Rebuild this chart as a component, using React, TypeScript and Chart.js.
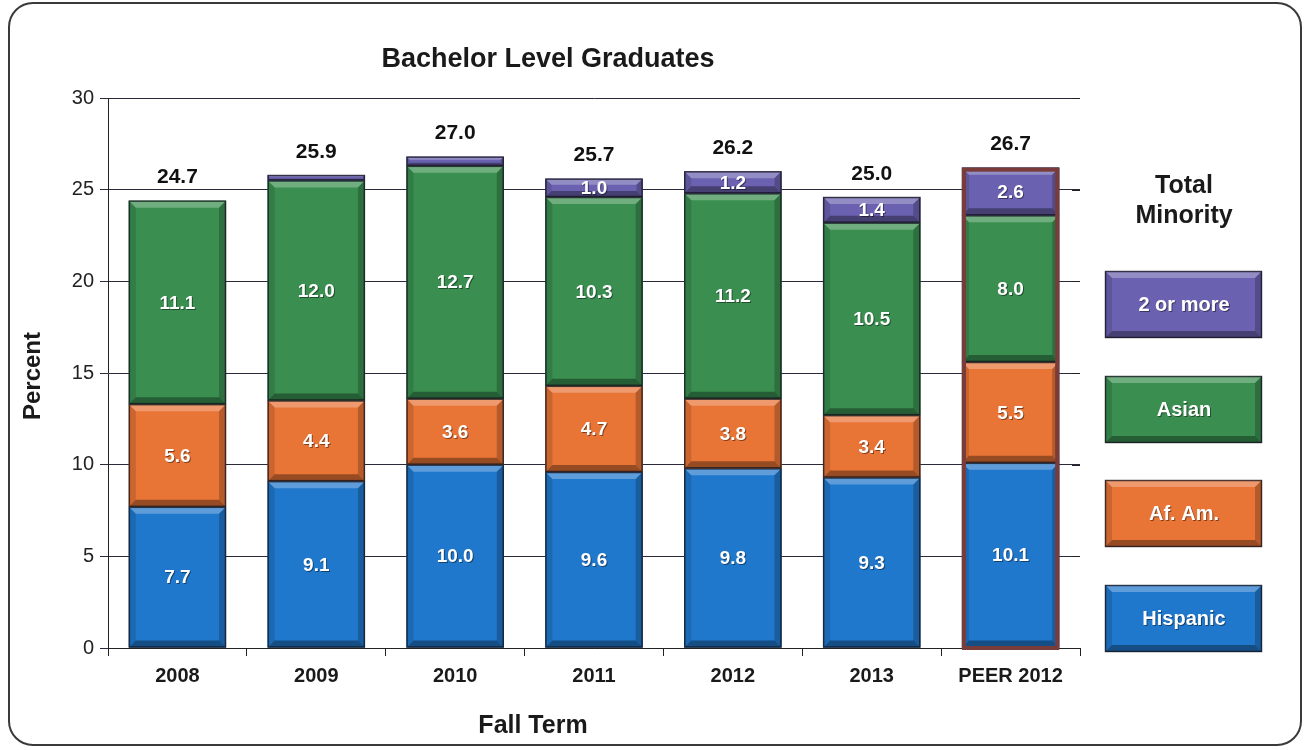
import React, { useEffect, useRef } from "react";
import { Chart, registerables } from "chart.js";

Chart.register(...registerables);

const categories = ["2008", "2009", "2010", "2011", "2012", "2013", "PEER 2012"];
const hispanic = [7.7, 9.1, 10.0, 9.6, 9.8, 9.3, 10.1];
const afAm = [5.6, 4.4, 3.6, 4.7, 3.8, 3.4, 5.5];
const asian = [11.1, 12.0, 12.7, 10.3, 11.2, 10.5, 8.0];
const twoOrMore = [0, 0.3, 0.5, 1.0, 1.2, 1.4, 2.6];
const totals = ["24.7", "25.9", "27.0", "25.7", "26.2", "25.0", "26.7"];
const seriesNames = ["Hispanic", "Af. Am.", "Asian", "2 or more"];
const seriesColors = ["#2078cc", "#e87436", "#3a8f50", "#6a62b0"];
const yTicks = [0, 5, 10, 15, 20, 25, 30];

const FONT = '"Liberation Sans", Arial, sans-serif';

function bevelRect(ctx: CanvasRenderingContext2D, l: number, t: number, r: number, b: number, color: string) {
  const h = b - t;
  const w = r - l;
  if (h <= 0) return;
  ctx.save();
  ctx.fillStyle = color;
  ctx.fillRect(l, t, w, h);
  const s = Math.min(7, h / 3, w / 3);
  ctx.fillStyle = "rgba(255,255,255,0.28)";
  ctx.beginPath();
  ctx.moveTo(l, t); ctx.lineTo(r, t); ctx.lineTo(r - s, t + s); ctx.lineTo(l + s, t + s); ctx.closePath(); ctx.fill();
  ctx.fillStyle = "rgba(0,0,0,0.35)";
  ctx.beginPath();
  ctx.moveTo(l, b); ctx.lineTo(r, b); ctx.lineTo(r - s, b - s); ctx.lineTo(l + s, b - s); ctx.closePath(); ctx.fill();
  ctx.fillStyle = "rgba(0,0,0,0.12)";
  ctx.beginPath();
  ctx.moveTo(l, t); ctx.lineTo(l + s, t + s); ctx.lineTo(l + s, b - s); ctx.lineTo(l, b); ctx.closePath(); ctx.fill();
  ctx.fillStyle = "rgba(0,0,0,0.22)";
  ctx.beginPath();
  ctx.moveTo(r, t); ctx.lineTo(r - s, t + s); ctx.lineTo(r - s, b - s); ctx.lineTo(r, b); ctx.closePath(); ctx.fill();
  ctx.strokeStyle = "rgba(20,20,30,0.75)";
  ctx.lineWidth = 1.5;
  ctx.strokeRect(l + 0.5, t + 0.5, w - 1, h - 1);
  ctx.restore();
}

function shadowText(ctx: CanvasRenderingContext2D, text: string, x: number, y: number) {
  ctx.save();
  ctx.fillStyle = "rgba(0,0,0,0.45)";
  ctx.fillText(text, x + 1, y + 1);
  ctx.fillStyle = "#ffffff";
  ctx.fillText(text, x, y);
  ctx.restore();
}

const decorPlugin = {
  id: "decor",
  beforeDraw(chart: any) {
    const ctx = chart.ctx as CanvasRenderingContext2D;
    ctx.save();
    ctx.fillStyle = "#ffffff";
    ctx.fillRect(0, 0, chart.width, chart.height);
    const l = 9, t = 3, r = 1301, b = 745, rad = 24;
    ctx.strokeStyle = "#3a3a3a";
    ctx.lineWidth = 2;
    ctx.beginPath();
    ctx.moveTo(l + rad, t);
    ctx.lineTo(r - rad, t);
    ctx.arcTo(r, t, r, t + rad, rad);
    ctx.lineTo(r, b - rad);
    ctx.arcTo(r, b, r - rad, b, rad);
    ctx.lineTo(l + rad, b);
    ctx.arcTo(l, b, l, b - rad, rad);
    ctx.lineTo(l, t + rad);
    ctx.arcTo(l, t, l + rad, t, rad);
    ctx.closePath();
    ctx.stroke();
    ctx.restore();
  },
  afterDatasetsDraw(chart: any) {
    const ctx = chart.ctx as CanvasRenderingContext2D;
    const area = chart.chartArea;
    const yScale = chart.scales.y;
    const nDs = chart.data.datasets.length;
    const tops: number[] = [];
    const bars: { l: number; r: number }[] = [];
    for (let d = 0; d < nDs; d++) {
      const meta = chart.getDatasetMeta(d);
      meta.data.forEach((el: any, i: number) => {
        const v = chart.data.datasets[d].data[i];
        const half = el.width / 2;
        const l = el.x - half, r = el.x + half;
        const top = Math.min(el.y, el.base), bot = Math.max(el.y, el.base);
        bars[i] = { l, r };
        if (v > 0) {
          bevelRect(ctx, l, top, r, bot, seriesColors[d]);
          tops[i] = tops[i] === undefined ? top : Math.min(tops[i], top);
        }
      });
    }
    const pi = categories.length - 1;
    if (bars[pi]) {
      ctx.save();
      ctx.strokeStyle = "#7a3b3b";
      ctx.lineWidth = 4;
      ctx.strokeRect(bars[pi].l + 2, tops[pi] + 2, bars[pi].r - bars[pi].l - 4, yScale.getPixelForValue(0) - tops[pi] - 2);
      ctx.restore();
    }
    ctx.save();
    ctx.font = `bold 19px ${FONT}`;
    ctx.textAlign = "center";
    ctx.textBaseline = "middle";
    for (let d = 0; d < nDs; d++) {
      const meta = chart.getDatasetMeta(d);
      meta.data.forEach((el: any, i: number) => {
        const v = chart.data.datasets[d].data[i];
        if (v >= 1) {
          const cy = (el.y + el.base) / 2;
          shadowText(ctx, v.toFixed(1), el.x, cy + 1);
        }
      });
    }
    ctx.restore();
    ctx.save();
    ctx.font = `bold 21px ${FONT}`;
    ctx.textAlign = "center";
    ctx.textBaseline = "middle";
    const meta0 = chart.getDatasetMeta(0);
    meta0.data.forEach((el: any, i: number) => {
      const y = tops[i] - 23;
      const tw = ctx.measureText(totals[i]).width;
      ctx.fillStyle = "#ffffff";
      ctx.fillRect(el.x - tw / 2 - 6, y - 11, tw + 12, 22);
      ctx.fillStyle = "#111111";
      ctx.fillText(totals[i], el.x, y);
    });
    ctx.restore();
    ctx.save();
    ctx.strokeStyle = "#222";
    ctx.lineWidth = 1;
    yTicks.forEach((v) => {
      const y = Math.round(yScale.getPixelForValue(v)) + 0.5;
      ctx.beginPath();
      ctx.moveTo(area.right - 8, y);
      ctx.lineTo(area.right, y);
      ctx.stroke();
    });
    ctx.restore();
  },
  afterDraw(chart: any) {
    const ctx = chart.ctx as CanvasRenderingContext2D;
    ctx.save();
    ctx.fillStyle = "#1a1a1a";
    ctx.textAlign = "center";
    ctx.textBaseline = "middle";
    ctx.font = `bold 27px ${FONT}`;
    ctx.fillText("Bachelor Level Graduates", 548, 60);
    ctx.font = `bold 25px ${FONT}`;
    ctx.fillText("Fall Term", 533, 726);
    ctx.save();
    ctx.translate(33, 376);
    ctx.rotate(-Math.PI / 2);
    ctx.font = `bold 24px ${FONT}`;
    ctx.fillText("Percent", 0, 0);
    ctx.restore();
    ctx.font = `bold 25px ${FONT}`;
    ctx.fillText("Total", 1184, 186);
    ctx.fillText("Minority", 1184, 216);
    const boxTops = [585, 480, 376, 271];
    ctx.font = `bold 20px ${FONT}`;
    for (let d = 0; d < seriesNames.length; d++) {
      bevelRect(ctx, 1105, boxTops[d], 1262, boxTops[d] + 67, seriesColors[d]);
      shadowText(ctx, seriesNames[d], 1184, boxTops[d] + 34);
    }
    ctx.restore();
  },
};

export default function App() {
  const ref = useRef<HTMLCanvasElement | null>(null);
  useEffect(() => {
    document.body.style.margin = "0";
    const canvas = ref.current;
    if (!canvas) return;
    const chart = new Chart(canvas, {
      type: "bar",
      data: {
        labels: categories,
        datasets: [
          { label: seriesNames[0], data: hispanic, backgroundColor: seriesColors[0] },
          { label: seriesNames[1], data: afAm, backgroundColor: seriesColors[1] },
          { label: seriesNames[2], data: asian, backgroundColor: seriesColors[2] },
          { label: seriesNames[3], data: twoOrMore, backgroundColor: seriesColors[3] },
        ],
      },
      options: {
        responsive: false,
        animation: false,
        devicePixelRatio: 1,
        layout: { padding: { top: 98, right: 228, left: 0, bottom: 0 } },
        datasets: { bar: { barPercentage: 0.7, categoryPercentage: 1 } },
        plugins: { legend: { display: false }, title: { display: false }, tooltip: { enabled: false } },
        scales: {
          x: {
            stacked: true,
            afterFit: (s: any) => { s.height = 102; },
            grid: { display: true, drawOnChartArea: false, drawTicks: true, tickLength: 8, color: "#222", offset: true },
            border: { display: true, color: "#222", width: 1 },
            ticks: { color: "#1a1a1a", font: { family: FONT, size: 20, weight: "bold" }, padding: 8, maxRotation: 0 },
          },
          y: {
            stacked: true,
            min: 0,
            max: 30,
            afterFit: (s: any) => { s.width = 108; },
            afterBuildTicks: (s: any) => { s.ticks = yTicks.map((v) => ({ value: v })); },
            grid: { display: true, color: "#2a2a3a", lineWidth: 1, tickLength: 8 },
            border: { display: true, color: "#222", width: 1 },
            ticks: { color: "#222", font: { family: FONT, size: 20 }, padding: 6 },
          },
        },
      },
      plugins: [decorPlugin],
    });
    return () => chart.destroy();
  }, []);
  return <canvas ref={ref} width={1308} height={750} style={{ display: "block" }} />;
}
